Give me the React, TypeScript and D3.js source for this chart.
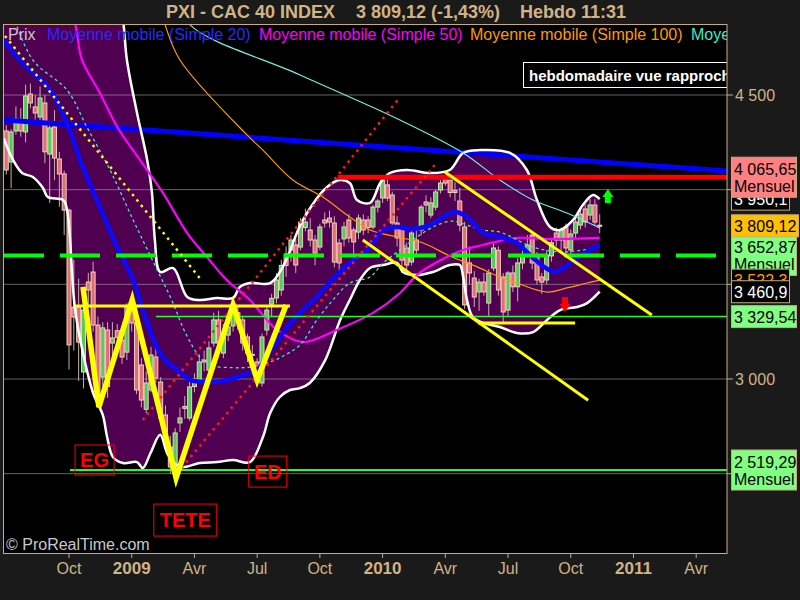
import React from "react";
import * as d3 from "d3";

type P = [number, number];

const DAY = 864e5;
const FIRST_WEEK = new Date(2008, 6, 7);

// Weekly bars, CAC 40, week of 7 Jul 2008 to week of 15 Nov 2010
const opens = [
  4310, 4146, 4310, 4368, 4305, 4505, 4437, 4384, 4458, 4188, 4331, 4162, 4083,
  3892, 3380, 3380, 3037, 3512, 3565, 3285, 3010, 3259, 3190, 3255, 3206, 3142,
  3380, 3296, 3074, 2840, 2942, 3116, 2984, 2810, 2641, 2535, 2768, 2845, 2794,
  2960, 2995, 3090, 3047, 3190, 3312, 3137, 3232, 3280, 3350, 3312, 3222, 3130,
  3090, 2979, 3259, 3395, 3428, 3470, 3660, 3681, 3708, 3697, 3800, 3787, 3734,
  3697, 3840, 3850, 3824, 3718, 3740, 3840, 3787, 3776, 3840, 3840, 3803, 3908,
  3956, 4025, 3972, 3824, 3798, 3692, 3618, 3734, 3787, 3935, 3866, 3908, 3998,
  4060, 4050, 3995, 3940, 3803, 3613, 3533, 3460, 3512, 3401, 3586, 3680, 3539,
  3364, 3560, 3487, 3613, 3671, 3760, 3655, 3539, 3523, 3650, 3771, 3734, 3803,
  3681, 3771, 3813, 3898, 3866, 3919, 3812,
];
const highs = [
  4340, 4320, 4440, 4430, 4555, 4560, 4500, 4545, 4500, 4350, 4420, 4200, 4100,
  3900, 3630, 3530, 3440, 3560, 3620, 3330, 3300, 3300, 3300, 3290, 3260, 3400,
  3417, 3330, 3110, 3040, 3170, 3160, 3010, 2860, 2700, 2740, 2850, 2910, 2990,
  3030, 3130, 3150, 3200, 3350, 3360, 3290, 3320, 3391, 3390, 3330, 3240, 3180,
  3110, 3240, 3380, 3450, 3560, 3630, 3700, 3760, 3740, 3850, 3900, 3850, 3760,
  3820, 3880, 3890, 3860, 3740, 3830, 3870, 3800, 3870, 3870, 3860, 3920, 3950,
  4070, 4060, 3990, 3860, 3810, 3720, 3790, 3790, 3920, 3970, 3960, 4000, 4050,
  4065.65, 4065, 4040, 4010, 3830, 3700, 3570, 3530, 3560, 3580, 3720, 3700, 3560,
  3570, 3600, 3640, 3680, 3760, 3780, 3670, 3560, 3680, 3740, 3800, 3800, 3820,
  3790, 3850, 3900, 3920, 3950, 3950, 3870,
];
const lows = [
  4080, 4009, 4290, 4280, 4250, 4430, 4370, 4360, 4140, 3930, 4050, 3910, 3760,
  3050, 3150, 2990, 2950, 3380, 3250, 2850, 2960, 2900, 3100, 3150, 3080, 3100,
  3250, 2920, 2850, 2820, 2930, 2980, 2770, 2680, 2500, 2477, 2720, 2790, 2780,
  2930, 2980, 3040, 3030, 3170, 3150, 3110, 3200, 3250, 3260, 3150, 3090, 3060,
  2970, 2960, 3230, 3330, 3400, 3440, 3540, 3620, 3560, 3680, 3780, 3700, 3600,
  3680, 3800, 3800, 3590, 3560, 3700, 3720, 3650, 3740, 3760, 3770, 3790, 3880,
  3930, 3940, 3800, 3700, 3560, 3550, 3600, 3660, 3760, 3880, 3850, 3890, 3980,
  4020, 3960, 3940, 3780, 3370, 3500, 3380, 3360, 3440, 3330, 3570, 3440, 3290,
  3330, 3460, 3410, 3580, 3640, 3580, 3500, 3450, 3500, 3620, 3700, 3670, 3660,
  3650, 3740, 3790, 3800, 3840, 3810, 3770,
];
const closes = [
  4104, 4305, 4373, 4310, 4495, 4458, 4405, 4484, 4200, 4326, 4167, 4083, 3892,
  3180, 3327, 3195, 3364, 3470, 3285, 2900, 3270, 2960, 3217, 3220, 3116, 3380,
  3296, 2942, 2889, 2979, 3127, 3005, 2794, 2720, 2535, 2715, 2794, 2855, 2958,
  3000, 3090, 3100, 3164, 3312, 3190, 3232, 3275, 3350, 3312, 3190, 3137, 3125,
  2984, 3222, 3364, 3426, 3523, 3600, 3600, 3734, 3602, 3829, 3829, 3734, 3665,
  3803, 3824, 3829, 3618, 3613, 3803, 3745, 3724, 3850, 3787, 3800, 3908, 3940,
  4051, 3956, 3824, 3745, 3628, 3602, 3771, 3681, 3908, 3919, 3930, 3988, 4035,
  4035, 3985, 3985, 3813, 3391, 3560, 3433, 3512, 3460, 3560, 3692, 3470, 3354,
  3560, 3487, 3613, 3650, 3708, 3613, 3523, 3512, 3655, 3720, 3734, 3787, 3692,
  3766, 3829, 3871, 3829, 3919, 3829, 3809.12,
];

// Indicator curves: [week number, value]
const bbUpper: P[] = [
  [-0.5, 5400], [22, 5300], [24.3, 4875], [25, 4685], [27.1, 4405], [29.2, 4157],
  [30.2, 3982], [30.8, 3734], [31.9, 3565], [34.6, 3586], [37.5, 3433], [40.1, 3417],
  [43.7, 3428], [47, 3428], [48.4, 3486], [50.5, 3507], [54.7, 3507], [57.3, 3592],
  [61.5, 3840], [66.5, 4014], [69.2, 4051], [71.2, 4035], [72.7, 3945], [75.4, 3930],
  [77.5, 4035], [79.5, 4088], [83.1, 4104], [87.8, 4088], [91.9, 4104], [94.7, 4194],
  [98.2, 4209], [104.4, 4194], [107.9, 4104], [110, 3945], [112.7, 3803], [114.8, 3787],
  [117.5, 3840], [119.5, 3919], [121.6, 3972], [123, 3950.1],
];
const bbLower: P[] = [
  [-0.5, 4270], [1.4, 4157], [3.3, 4088], [5.5, 4067], [7.6, 4009], [8.6, 3961],
  [11.8, 3945], [12.6, 3893], [14.2, 3380], [15.9, 3137], [18, 2926], [20, 2810],
  [20.9, 2694], [22.1, 2588], [24.2, 2556], [27.1, 2561], [28.3, 2530], [29.9, 2609],
  [31.9, 2705], [33.5, 2600], [36, 2535], [40.1, 2556], [43.7, 2561], [47, 2572],
  [50.5, 2561], [53.2, 2694], [54.7, 2820], [56.7, 2905], [58.8, 2942], [60.9, 2952],
  [62.9, 2979], [66.1, 3100], [69.2, 3312], [71.2, 3417], [73.3, 3523], [75.4, 3586],
  [78.1, 3602], [81, 3613], [82.2, 3565], [85.1, 3549], [88.4, 3565], [91.9, 3602],
  [94, 3602], [94.7, 3539], [95.5, 3417], [96.7, 3327], [98.8, 3296], [102.3, 3275],
  [105.8, 3243], [109.2, 3248], [112.1, 3312], [114.8, 3364], [118.3, 3380],
  [120.4, 3401], [123, 3460.9],
];
const bbMiddle: P[] = [
  [1, 4950], [5.5, 4685], [12.6, 4526], [16.7, 4331], [21.5, 4104], [26.3, 3840],
  [31.2, 3580], [34.3, 3417], [37, 3250], [40.1, 3116], [42.2, 3074], [47, 3060],
  [50.5, 3063], [54.7, 3090], [58, 3130], [60.9, 3180], [64.4, 3312], [67.7, 3417],
  [71.2, 3507], [75.4, 3539], [78.1, 3613], [81.6, 3681], [85.1, 3750], [89.3, 3813],
  [92.6, 3834], [95.5, 3813], [98.8, 3787], [102.3, 3776], [109.2, 3697], [114.8, 3671],
  [119.5, 3681], [123, 3697],
];
const ma20: P[] = [
  [-0.5, 4790], [2.8, 4685], [9.1, 4526], [12.6, 4352], [15.3, 4157], [19.4, 3908],
  [23, 3697], [26.3, 3523], [28.3, 3364], [31.2, 3169], [33.3, 3090], [35.4, 3050],
  [38.1, 2995], [41.6, 2984], [45, 2990], [49, 3020], [52, 3048], [54, 3116],
  [57.3, 3243], [60.9, 3349], [64.4, 3433], [67.1, 3512], [71.2, 3613], [74.8, 3681],
  [78.1, 3787], [81, 3803], [83.7, 3792], [87.8, 3813], [90.5, 3856], [93, 3882],
  [95.5, 3856], [98.8, 3771], [102.3, 3750], [105.8, 3718], [109.2, 3639], [111.6, 3590],
  [113.7, 3565], [117.2, 3618], [119.9, 3665], [123, 3708],
];
const ma50: P[] = [
  [12.5, 5100], [14.5, 4850], [15.7, 4685], [19.4, 4511], [23, 4331], [27.7, 4157],
  [32.5, 3982], [37.5, 3771], [41.6, 3644], [45.7, 3523], [50.5, 3417], [56.1, 3259],
  [61.5, 3195], [68.5, 3259], [76, 3349], [81.6, 3454], [85.1, 3549], [89.3, 3618],
  [94.7, 3681], [98.8, 3708], [105.8, 3745], [112.7, 3739], [123, 3745],
];
const ma100: P[] = [
  [31.5, 5000], [32.8, 4880], [36, 4685], [49.9, 4289], [53.2, 4209], [59.4, 4051],
  [65.6, 3961], [71.2, 3856], [75.4, 3787], [81, 3750], [86.4, 3718], [91.9, 3650],
  [97.6, 3592], [102.3, 3539], [105.8, 3507], [112.1, 3459], [116.2, 3481], [120.4, 3507],
  [123, 3522],
];
const ma200: P[] = [
  [36, 5000], [38.1, 4870], [60.9, 4606], [81.6, 4368], [94.7, 4194], [102.3, 4051],
  [109.2, 3945], [116.2, 3877], [123, 3798],
];

// Hand-drawn studies
const headShoulders: P[] = [
  [15.9, 3486], [19.2, 2852], [26.1, 3417], [35.2, 2477], [47, 3391], [52, 2995], [58, 3391],
];
const neckline: P[] = [[14.2, 3386], [58.8, 3386]];
const channelUpper: P[] = [[90.9, 4093], [133.8, 3338]];
const channelLower: P[] = [[73.9, 3734], [120.6, 2888]];
const supportSegment: P[] = [[97.8, 3296], [117.9, 3296]];
const redDottedA: P[] = [[28.3, 2783], [81.6, 4489]];
const redDottedB: P[] = [[35.4, 2503], [88.8, 4130]];
const yellowDotted: P[] = [[-0.27, 4812], [40.1, 3533]];
const longTrend: P[] = [[-0.7, 4368], [149.4, 4099]];

const resistanceLevel = { value: 4065.65, fromWeek: 68.7 };
const pivotLevel = 3652.87;
const supportLevel = { value: 3329.54, fromWeek: 31 };
const monthlyLow = { value: 2519.29, fromWeek: 13.2 };

const patternLabels = [
  { text: "EG", week: 18.3, value: 2572, w: 39, h: 30 },
  { text: "ED", week: 54.2, value: 2511, w: 38, h: 31 },
  { text: "TETE", week: 37.1, value: 2255, w: 63, h: 32 },
];
const upArrow = { week: 124.7, base: 3930, tip: 4003 };
const downArrow = { week: 115.8, base: 3433, tip: 3354 };

const gridValues = [2500, 3000, 3500, 4000, 4500];
const axisLabels = [
  { value: 4500, text: "4 500" },
  { value: 3000, text: "3 000" },
];

const xTicks: [number, number, string][] = [
  [2008, 9, "Oct"], [2009, 0, "2009"], [2009, 3, "Avr"], [2009, 6, "Jul"],
  [2009, 9, "Oct"], [2010, 0, "2010"], [2010, 3, "Avr"], [2010, 6, "Jul"],
  [2010, 9, "Oct"], [2011, 0, "2011"], [2011, 3, "Avr"],
];

const legendItems = [
  { text: "Prix", color: "#c8c8c8", x: 8 },
  { text: "Moyenne mobile (Simple 20)", color: "#2a2aff", x: 47 },
  { text: "Moyenne mobile (Simple 50)", color: "#ff00ff", x: 259 },
  { text: "Moyenne mobile (Simple 100)", color: "#ff9a00", x: 470 },
  { text: "Moye", color: "#40e8c8", x: 691 },
];

// Price tags on the right axis, painted in this order
const priceTags = [
  { value: 3950.1, lines: ["3 950,1"], fill: "#000000", color: "#ffffff", w: 58 },
  { value: 4065.65, lines: ["4 065,65", "Mensuel"], fill: "#ff8080", color: "#000000", w: 65 },
  { value: 3652.87, lines: ["3 652,87", "Mensuel"], fill: "#80ff80", color: "#000000", w: 65 },
  { value: 3522.3, lines: ["3 522,3"], fill: "#000000", color: "#ff9a00", w: 58 },
  { value: 3460.9, lines: ["3 460,9"], fill: "#000000", color: "#ffffff", w: 58 },
  { value: 3809.12, lines: ["3 809,12"], fill: "#ffc000", color: "#000000", w: 67 },
  { value: 3329.54, lines: ["3 329,54"], fill: "#80ff80", color: "#000000", w: 65 },
  { value: 2519.29, lines: ["2 519,29", "Mensuel"], fill: "#80ff80", color: "#000000", w: 65 },
];

const weekDate = (w: number) => new Date(FIRST_WEEK.getTime() + w * 7 * DAY);

const FONT = "'Liberation Sans', Arial, sans-serif";
const TAN = "#d2b384";
const AXIS = "#c9ab7e";

export default function App() {
  const L = 4, R = 727, T = 25, B = 553;
  const x = d3.scaleTime().domain([new Date(2008, 9, 6), new Date(2010, 0, 4)]).range([69, 382.6]);
  const y = d3.scaleLinear().domain([3000, 4500]).range([379, 95]);
  const px = (w: number) => x(weekDate(w));

  const smooth = d3.line<P>().x((d) => px(d[0])).y((d) => y(d[1])).curve(d3.curveCatmullRom.alpha(0.5));
  const straight = d3.line<P>().x((d) => px(d[0])).y((d) => y(d[1]));

  const bandFill =
    (smooth(bbUpper) as string) + (smooth([...bbLower].reverse()) as string).replace(/^M/, "L") + "Z";

  const arrowPath = (a: { week: number; base: number; tip: number }) => {
    const cx = px(a.week), yb = y(a.base), yt = y(a.tip);
    const dir = yt < yb ? 1 : -1;
    const neck = yt + dir * 8;
    return `M${cx},${yt} L${cx + 5.5},${neck} L${cx + 3},${neck} L${cx + 3},${yb} L${cx - 3},${yb} L${cx - 3},${neck} L${cx - 5.5},${neck} Z`;
  };

  return (
    <svg width={800} height={600} style={{ position: "absolute", left: 0, top: 0 }} fontFamily={FONT}>
      <defs>
        <clipPath id="plotArea">
          <rect x={L} y={T} width={R - L} height={B - T} />
        </clipPath>
      </defs>
      <rect x={0} y={0} width={800} height={600} fill="#1a1a1a" />
      <rect x={L} y={T} width={R - L} height={B - T} fill="#000000" />

      <g clipPath="url(#plotArea)">
        {/* Bollinger envelope */}
        <path d={bandFill} fill="#500050" />

        {gridValues.map((v) => (
          <line key={v} x1={L} x2={R} y1={y(v)} y2={y(v)} stroke="#9a9a9a" strokeOpacity={0.65} strokeWidth={1} />
        ))}

        {/* weekly candles */}
        {closes.map((c, i) => {
          const o = opens[i];
          const cx = px(i);
          const top = y(Math.max(o, c));
          const bot = y(Math.min(o, c));
          const up = c >= o;
          return (
            <g key={i}>
              <line x1={cx} x2={cx} y1={y(highs[i])} y2={y(lows[i])} stroke="#c4b3a2" strokeWidth={1} />
              <rect
                x={cx - 2}
                y={top}
                width={4}
                height={Math.max(bot - top, 1)}
                fill={up ? "#55cc55" : "#e07070"}
                stroke="#f0cfc6"
                strokeWidth={1}
              />
            </g>
          );
        })}

        <path d={straight(longTrend) as string} stroke="#0000ff" strokeWidth={5} fill="none" />

        <path d={smooth(bbUpper) as string} stroke="#ffffff" strokeWidth={2.5} fill="none" />
        <path d={smooth(bbLower) as string} stroke="#ffffff" strokeWidth={2.5} fill="none" />
        <path d={smooth(ma100) as string} stroke="#ff9a00" strokeWidth={1.2} fill="none" />
        <path d={smooth(ma200) as string} stroke="#6ff0e0" strokeWidth={1.2} fill="none" />
        <path d={smooth(ma50) as string} stroke="#ff00ff" strokeWidth={2.2} fill="none" />
        <path d={smooth(bbMiddle) as string} stroke="#40e8d0" strokeWidth={1.3} strokeDasharray="3 3" fill="none" />
        <path d={smooth(ma20) as string} stroke="#0a0aff" strokeWidth={4.5} fill="none" />

        {/* horizontal levels */}
        <line x1={L} x2={R} y1={y(pivotLevel)} y2={y(pivotLevel)} stroke="#00ff00" strokeWidth={4} strokeDasharray="40 16" />
        <line x1={px(supportLevel.fromWeek)} x2={R} y1={y(supportLevel.value)} y2={y(supportLevel.value)} stroke="#22ff22" strokeWidth={1.5} />
        <line x1={px(monthlyLow.fromWeek)} x2={R} y1={y(monthlyLow.value)} y2={y(monthlyLow.value)} stroke="#22ff22" strokeWidth={2} />
        <line x1={px(resistanceLevel.fromWeek)} x2={R} y1={y(resistanceLevel.value)} y2={y(resistanceLevel.value)} stroke="#ff0000" strokeWidth={5} />

        {/* drawn studies */}
        <path d={straight(redDottedA) as string} stroke="#ff1a1a" strokeWidth={2.5} strokeDasharray="2.5 4.5" fill="none" />
        <path d={straight(redDottedB) as string} stroke="#ff1a1a" strokeWidth={2.5} strokeDasharray="2.5 4.5" fill="none" />
        <path d={straight(yellowDotted) as string} stroke="#ffff00" strokeWidth={2.5} strokeDasharray="2.5 4.5" fill="none" />
        <path d={straight(neckline) as string} stroke="#ffff00" strokeWidth={3} fill="none" />
        <path d={straight(headShoulders) as string} stroke="#ffff00" strokeWidth={5.5} strokeLinejoin="miter" fill="none" />
        <path d={straight(channelUpper) as string} stroke="#ffff00" strokeWidth={3} fill="none" />
        <path d={straight(channelLower) as string} stroke="#ffff00" strokeWidth={3} fill="none" />
        <path d={straight(supportSegment) as string} stroke="#ffff00" strokeWidth={3} fill="none" />

        <path d={arrowPath(upArrow)} fill="#00ff00" />
        <path d={arrowPath(downArrow)} fill="#ff0000" />

        {patternLabels.map((p) => {
          const cx = px(p.week), cy = y(p.value);
          return (
            <g key={p.text}>
              <rect x={cx - p.w / 2} y={cy - p.h / 2} width={p.w} height={p.h} fill="none" stroke="#ff0000" strokeWidth={1} />
              <text x={cx} y={cy + 7} textAnchor="middle" fill="#ff0000" fontWeight="bold" fontSize={20}>
                {p.text}
              </text>
            </g>
          );
        })}

        <rect x={523.5} y={62.5} width={230} height={25} fill="#000000" stroke="#ffffff" strokeWidth={1} />
        <text x={529} y={81} fill="#ffffff" fontWeight="bold" fontSize={15}>
          hebdomadaire vue rapprochée
        </text>

        {legendItems.map((it) => (
          <text key={it.text} x={it.x} y={40} fill={it.color} fontSize={16}>
            {it.text}
          </text>
        ))}

        <text x={6} y={550} fill="#c8c8c8" fontSize={16}>
          © ProRealTime.com
        </text>
      </g>

      <rect x={3.5} y={24.5} width={R - 3.5} height={B - 24.5 + 0.5} fill="none" stroke={AXIS} strokeWidth={1} />

      {/* price axis */}
      {gridValues.map((v) => (
        <line key={v} x1={R} x2={733} y1={y(v)} y2={y(v)} stroke={AXIS} strokeWidth={1} />
      ))}
      {axisLabels.map((a) => (
        <text key={a.value} x={735} y={y(a.value) + 6} fill={TAN} fontSize={16}>
          {a.text}
        </text>
      ))}
      {priceTags.map((t) => {
        const cy = y(t.value);
        const two = t.lines.length > 1;
        const h = two ? 40 : 22;
        return (
          <g key={t.value}>
            <rect x={731.5} y={cy - h / 2} width={t.w} height={h} fill={t.fill} stroke={AXIS} strokeWidth={1} />
            {t.lines.map((ln, k) => (
              <text key={k} x={734} y={two ? cy - 2 + k * 17 : cy + 6} fill={t.color} fontSize={16}>
                {ln}
              </text>
            ))}
          </g>
        );
      })}

      {/* time axis */}
      {xTicks.map(([yr, m, label]) => {
        const d = d3.timeMonday.ceil(new Date(yr, m, 1));
        const tx = x(d);
        const isYear = /^\d{4}$/.test(label);
        return (
          <g key={label + yr + m}>
            <line x1={tx} x2={tx} y1={B} y2={558} stroke={AXIS} strokeWidth={1} />
            <text
              x={tx}
              y={574}
              textAnchor="middle"
              fill={TAN}
              fontSize={isYear ? 17 : 16}
              fontWeight={isYear ? "bold" : "normal"}
            >
              {label}
            </text>
          </g>
        );
      })}

      {/* header */}
      <g fill={TAN} fontWeight="bold" fontSize={18}>
        <text x={166} y={18}>PXI - CAC 40 INDEX</text>
        <text x={356} y={18}>3 809,12 (-1,43%)</text>
        <text x={520} y={18}>Hebdo  11:31</text>
      </g>
    </svg>
  );
}
